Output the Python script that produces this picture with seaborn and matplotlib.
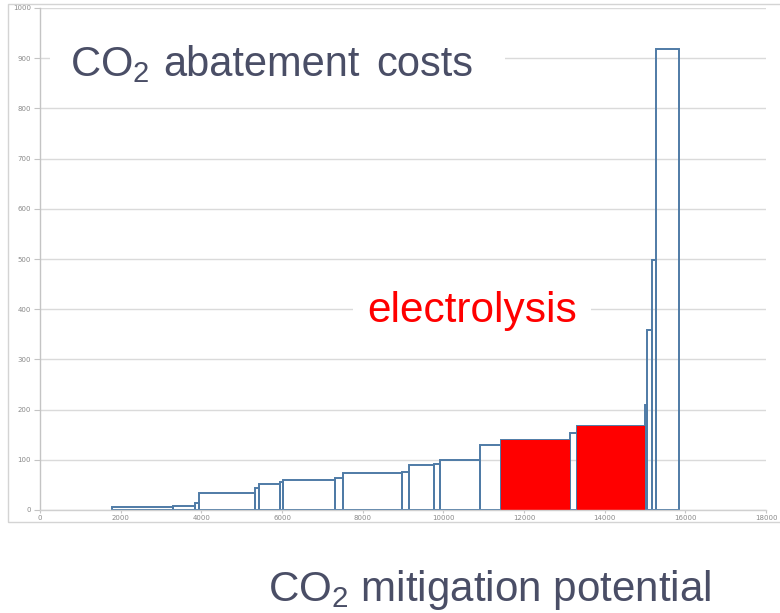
import matplotlib
matplotlib.use("Agg")
import matplotlib.pyplot as plt
import seaborn as sns
import pandas as pd
from matplotlib.patches import Rectangle

# Marginal abatement cost curve: each measure is a block whose width is its
# mitigation potential and whose height is its specific abatement cost.
cumulative_potential = [1780, 3300, 3840, 3940, 5330, 5420, 5950, 6030, 7310,
                        7500, 8980, 9160, 9760, 9920, 10900, 11420, 13130,
                        13320, 14990, 15060, 15175, 15267, 15844]
abatement_cost = [5, 7, 14, 34, 43, 51, 55, 59, 64, 73, 75, 89, 92, 100, 130,
                  140, 153, 168, 209, 358, 498, 918]
electrolysis_idx = [15, 17]

y_ticks = [0, 100, 200, 300, 400, 500, 600, 700, 800, 900, 1000]
x_ticks = [0, 2000, 4000, 6000, 8000, 10000, 12000, 14000, 16000, 18000]

sns.set_style("white")
plt.rcParams["font.family"] = ["Liberation Sans", "DejaVu Sans"]
plt.rcParams["mathtext.fontset"] = "custom"
plt.rcParams["mathtext.rm"] = "Liberation Sans"
plt.rcParams["mathtext.it"] = "Liberation Sans:italic"

W, H = 780, 613
fig = plt.figure(figsize=(W / 100, H / 100), dpi=100)
fig.patch.set_facecolor("white")


def px(x, y):
    """Pixel position (from top-left) to figure fraction."""
    return x / W, 1 - y / H


# thin outer frame of the chart area
fig.patches.append(Rectangle(px(8, 522), 1.0, 518 / H,
                             transform=fig.transFigure, fill=False,
                             edgecolor="#d4d4d4", lw=1.0))

ax = fig.add_axes([40 / W, (H - 510) / H, 726 / W, 502 / H])

edges = [float(e) for e in cumulative_potential]
mids = [(a + b) / 2 for a, b in zip(edges[:-1], edges[1:])]
df = pd.DataFrame({"potential": mids, "cost": [float(c) for c in abatement_cost]})

outline = "#4f7ba6"
sns.histplot(data=df, x="potential", weights="cost", bins=edges,
             element="bars", fill=False, color=outline, linewidth=1.4, ax=ax)

for i in electrolysis_idx:
    sns.histplot(data=df.iloc[[i]], x="potential", weights="cost",
                 bins=edges[i:i + 2], element="bars", fill=True,
                 color="#ff0000", alpha=1.0, linewidth=0, ax=ax)

ax.set_xlim(0, 18000)
ax.set_ylim(0, 1000)
ax.set_xticks(x_ticks)
ax.set_yticks(y_ticks)
ax.set_xticklabels([str(t) for t in x_ticks])
ax.set_yticklabels([str(t) for t in y_ticks])
ax.set_xlabel("")
ax.set_ylabel("")

ax.set_axisbelow(True)
ax.yaxis.grid(True, color="#dadada", lw=1.0)
ax.xaxis.grid(False)
for s in ["top", "right"]:
    ax.spines[s].set_visible(False)
ax.spines["left"].set_color("#c4c4c4")
ax.spines["bottom"].set_color("#d0d0d0")
ax.spines["left"].set_linewidth(1.0)
ax.spines["bottom"].set_linewidth(1.0)

ax.tick_params(axis="y", length=4, width=0.8, color="#c4c4c4", pad=2.5,
               labelsize=5, labelcolor="#8a8a8a", direction="out", left=True)
ax.tick_params(axis="x", length=2, width=0.8, color="#c4c4c4", pad=1.5,
               labelsize=5, labelcolor="#8a8a8a", direction="out", bottom=True)
for lab in ax.get_xticklabels() + ax.get_yticklabels():
    lab.set_family("DejaVu Sans")

text_col = "#4a4e66"

# title on a white panel that hides the grid line behind it
fig.patches.append(Rectangle(px(50, 92), 455 / W, 62 / H,
                             transform=fig.transFigure, facecolor="white",
                             edgecolor="none", zorder=5))
for word, x0 in [(r"CO$_\mathregular{2}$", 70), ("abatement", 163), ("costs", 376)]:
    fig.text(*px(x0, 76), word, fontsize=30, color=text_col,
             va="baseline", ha="left", zorder=6)

fig.text(*px(367, 322), "electrolysis", fontsize=30.5, color="#ff0000",
         va="baseline", ha="left",
         bbox=dict(facecolor="white", edgecolor="none", pad=10))
fig.text(*px(490, 601), r"CO$_\mathregular{2}$ mitigation potential",
         fontsize=30.3, color=text_col, va="baseline", ha="center")

fig.savefig("out.png", dpi=100)
